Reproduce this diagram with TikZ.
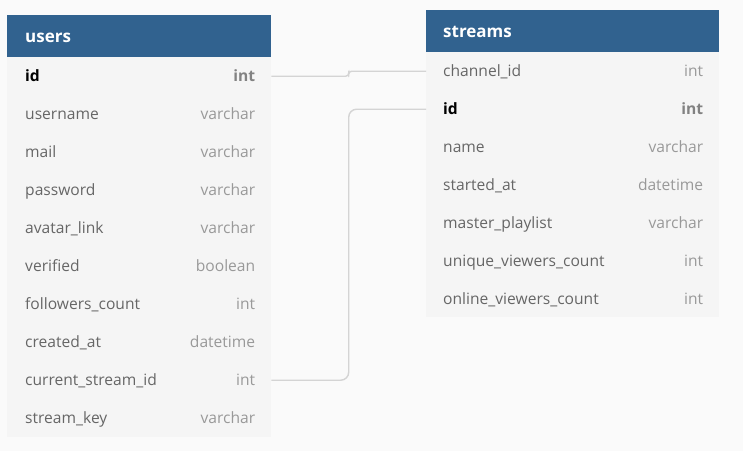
\documentclass[tikz,border=0pt]{standalone}
\usepackage{fontspec}
\setmainfont{Open Sans}
\usepackage{xcolor}
\usetikzlibrary{calc}
\definecolor{hdrblue}{HTML}{31628F}
\definecolor{bodygray}{HTML}{F5F5F5}
\definecolor{pagegray}{HTML}{FAFAFA}
\definecolor{fldtext}{HTML}{666666}
\definecolor{typtext}{HTML}{999999}
\definecolor{linkgray}{HTML}{D4D4D4}
\tikzset{
  hdr/.style={fill=hdrblue, anchor=north west, minimum height=42, inner sep=0},
  hdrtext/.style={anchor=base west, inner sep=0, text=white, font=\fontsize{17}{20}\selectfont\bfseries},
  row/.style={anchor=north west, minimum height=38, inner sep=0},
  fld/.style={anchor=base west, inner sep=0, text=fldtext, font=\fontsize{15.6}{18}\selectfont},
  typ/.style={anchor=base east, inner sep=0, text=typtext, font=\fontsize{15.6}{18}\selectfont},
  plain/.style={},
  plain typ/.style={},
  key/.style={text=black, font=\fontsize{15.6}{18}\selectfont\bfseries},
  key typ/.style={text=typtext!85!black, font=\fontsize{15.6}{18}\selectfont\bfseries},
  link/.style={draw=linkgray, line width=1.4}
}

\begin{document}
\begin{tikzpicture}[x=1pt, y=-1pt]
\fill[pagegray] (0,0) rectangle (743,451);
\useasboundingbox (0,0) rectangle (743,451);

% users table
\fill[bodygray] (7,57) rectangle (271,437);
\node[hdr, minimum width=264] (users) at (7,15) {};
\node[hdrtext] (users-t) at ([xshift=18, yshift=-6]users.west) {users};
\foreach \n/\t/\s [count=\i] in {id/int/key, username/varchar/plain, mail/varchar/plain, password/varchar/plain, avatar\_link/varchar/plain, verified/boolean/plain, followers\_count/int/plain, created\_at/datetime/plain, current\_stream\_id/int/plain, stream\_key/varchar/plain} {
  \node[row, minimum width=264] (u\i) at (7,57+38*\i-38) {};
  \node[fld, \s] (u\i-f) at ([xshift=18, yshift=-5]u\i.west) {\n};
  \node[typ, \s\space typ] (u\i-t) at ([xshift=-16, yshift=-5]u\i.east) {\t};
}

% streams table
\fill[bodygray] (426,52) rectangle (719,317);
\node[hdr, minimum width=293] (streams) at (426,10) {};
\node[hdrtext] (streams-t) at ([xshift=17, yshift=-6]streams.west) {streams};
\foreach \n/\t/\s [count=\i] in {channel\_id/int/plain, id/int/key, name/varchar/plain, started\_at/datetime/plain, master\_playlist/varchar/plain, unique\_viewers\_count/int/plain, online\_viewers\_count/int/plain} {
  \node[row, minimum width=293] (s\i) at (426,52+38*\i-38) {};
  \node[fld, \s] (s\i-f) at ([xshift=17, yshift=-5]s\i.west) {\n};
  \node[typ, \s\space typ] (s\i-t) at ([xshift=-16, yshift=-5]s\i.east) {\t};
}

% links
\draw[link, rounded corners=3] (u1.east) -| ($(u1.east)!.5!(s1.west)$) |- (s1.west);
\draw[link, rounded corners=8] (u9.east) -| ($(u9.east)!.5!(s2.west)$) |- (s2.west);
\end{tikzpicture}
\end{document}
